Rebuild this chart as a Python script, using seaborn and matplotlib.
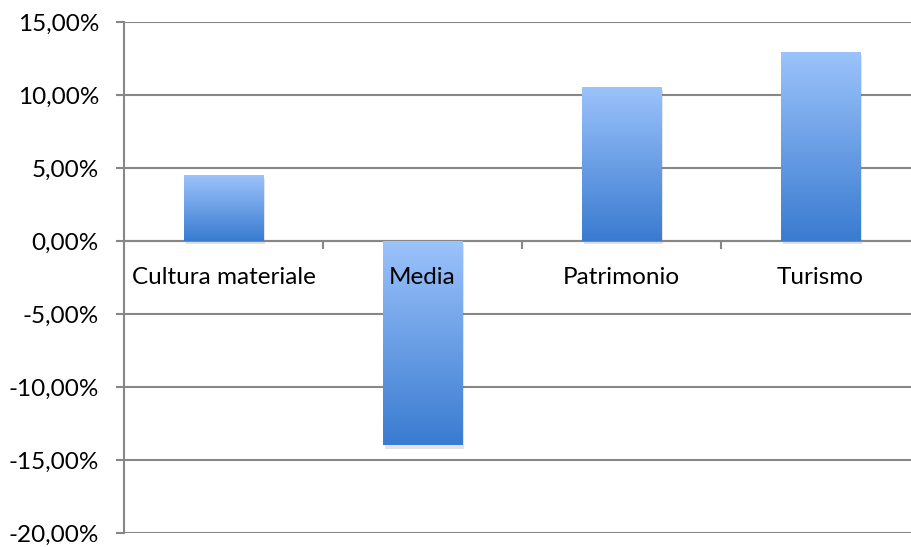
import numpy as np
import pandas as pd
import seaborn as sns
import matplotlib
matplotlib.use("Agg")
import matplotlib.pyplot as plt
import matplotlib.patheffects as pe
from matplotlib.colors import LinearSegmentedColormap
from matplotlib.ticker import FuncFormatter, MultipleLocator, FixedLocator

categories = ["Cultura materiale", "Media", "Patrimonio", "Turismo"]
values = [0.045, -0.140, 0.1055, 0.1295]
y_ticks = [-0.20, -0.15, -0.10, -0.05, 0.0, 0.05, 0.10, 0.15]

sns.set_theme(style="white")
plt.rcParams["font.family"] = ["Lato", "DejaVu Sans"]

df = pd.DataFrame({"cat": categories, "val": values})

W, H = 911, 547
fig = plt.figure(figsize=(W / 100, H / 100), dpi=100)
ax = fig.add_axes([124 / W, 1 - 533 / H, (920 - 124) / W, (533 - 22) / H])

grid_c = "#878787"
lw = 1.5
sns.barplot(data=df, x="cat", y="val", ax=ax, width=0.4, color="#5b93e0",
            edgecolor="none", linewidth=0)

cmap = LinearSegmentedColormap.from_list("g", ["#3a7bd0", "#9cc3fb"])
grad = np.linspace(0, 1, 256).reshape(-1, 1)
for p in ax.patches:
    p.set_zorder(2)
    p.set_path_effects([pe.SimplePatchShadow(offset=(1.5, -2.5), alpha=0.15, shadow_rgbFace="#444444"), pe.Normal()])
    x0, y0 = p.get_x(), p.get_y()
    w, h = p.get_width(), p.get_height()
    ylo, yhi = min(y0, y0 + h), max(y0, y0 + h)
    im = ax.imshow(grad, cmap=cmap, aspect="auto", origin="lower",
                   extent=(x0, x0 + w, ylo, yhi), zorder=3, interpolation="bicubic")
    im.set_clip_path(p)

ax.set_xlim(-0.5, 3.5)
ax.set_ylim(-0.20, 0.15)
ax.yaxis.set_major_locator(FixedLocator(y_ticks))
ax.yaxis.set_major_formatter(FuncFormatter(lambda v, _: f"{v*100:.2f}%".replace(".", ",")))
ax.grid(True, axis="y", color=grid_c, linewidth=lw)
ax.grid(False, axis="x")

for s in ["top", "right"]:
    ax.spines[s].set_visible(False)
ax.spines["left"].set_color(grid_c)
ax.spines["left"].set_linewidth(lw)
ax.spines["bottom"].set_position(("data", 0))
ax.spines["bottom"].set_color(grid_c)
ax.spines["bottom"].set_linewidth(lw)

ax.set_xlabel("")
ax.set_ylabel("")
ax.tick_params(axis="y", which="major", direction="out", length=6, width=lw,
               color=grid_c, pad=12, labelsize=17.5, labelcolor="black", left=True)
ax.tick_params(axis="x", which="major", length=0, pad=19, labelsize=17.5, labelcolor="black")
ax.xaxis.set_minor_locator(MultipleLocator(1, offset=0.5))
ax.tick_params(axis="x", which="minor", direction="out", length=6, width=lw,
               color=grid_c, bottom=True)

ax.yaxis.set_zorder(0.5)
ax.xaxis.set_zorder(5)

fig.savefig("out.png", dpi=100)
